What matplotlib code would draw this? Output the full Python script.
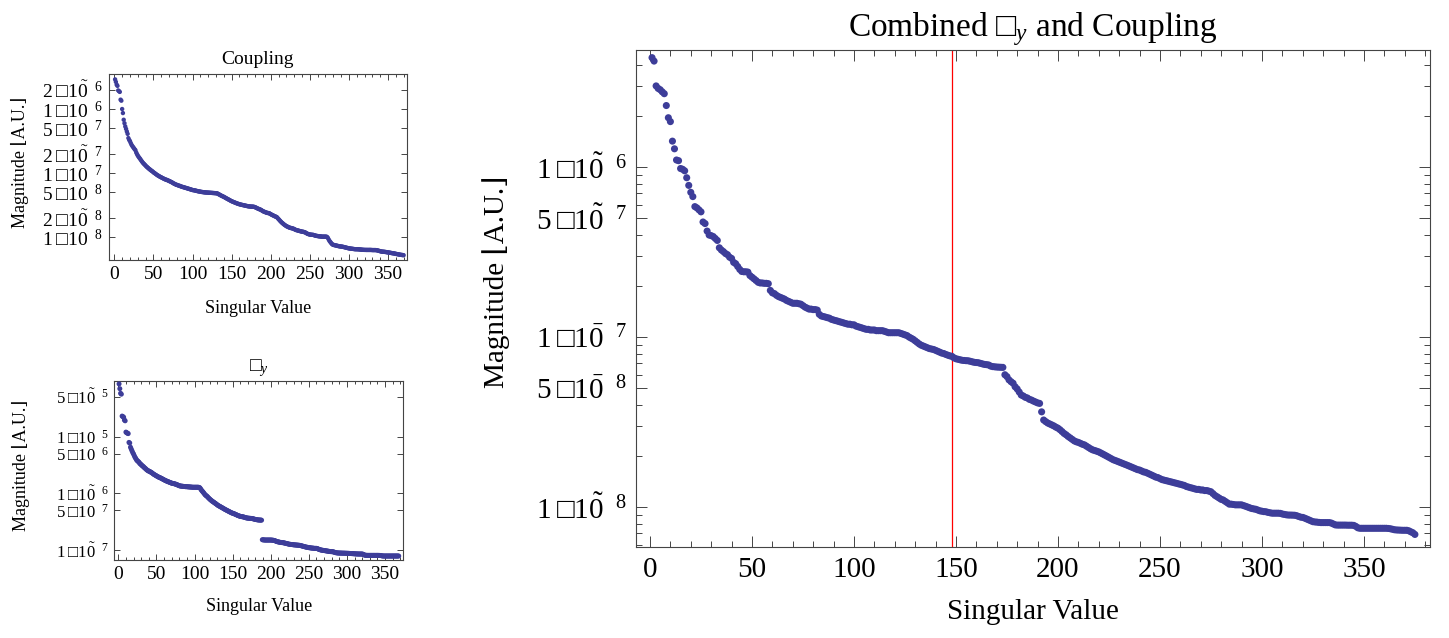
import numpy as np
import matplotlib.pyplot as plt
from matplotlib.ticker import FixedLocator, NullFormatter

# ---- data (index 1..N) ----
combined = [
    4.4e-6, 4.2e-6, 3.0e-6, 2.9e-6, 2.85e-6, 2.77e-6, 2.7e-6, 2.3e-6, 1.95e-6, 1.85e-6,
    1.42e-6, 1.28e-6, 1.10e-6, 1.09e-6, 9.8e-7, 9.7e-7, 9.5e-7, 8.65e-7, 7.8e-7, 7.1e-7,
    6.7e-7, 5.85e-7, 5.75e-7, 5.6e-7, 5.45e-7, 4.75e-7, 4.65e-7, 4.2e-7, 3.98e-7, 3.95e-7,
    3.9e-7, 3.8e-7, 3.7e-7, 3.35e-7, 3.25e-7, 3.18e-7, 3.1e-7, 3.05e-7, 2.95e-7, 2.9e-7,
    2.75e-7, 2.7e-7, 2.6e-7, 2.5e-7, 2.43e-7, 2.42e-7, 2.42e-7, 2.41e-7, 2.3e-7, 2.25e-7,
    2.2e-7, 2.15e-7, 2.1e-7, 2.08e-7, 2.08e-7, 2.07e-7, 2.07e-7, 2.06e-7, 1.88e-7, 1.82e-7,
    1.8e-7, 1.76e-7, 1.73e-7, 1.71e-7, 1.69e-7, 1.67e-7, 1.64e-7, 1.62e-7, 1.6e-7, 1.58e-7,
    1.58e-7, 1.58e-7, 1.57e-7, 1.56e-7, 1.53e-7, 1.5e-7, 1.48e-7, 1.46e-7, 1.46e-7, 1.45e-7,
    1.45e-7, 1.44e-7, 1.36e-7, 1.33e-7, 1.32e-7, 1.31e-7, 1.3e-7, 1.29e-7, 1.27e-7, 1.26e-7,
    1.25e-7, 1.24e-7, 1.23e-7, 1.22e-7, 1.21e-7, 1.2e-7, 1.19e-7, 1.19e-7, 1.18e-7, 1.18e-7,
    1.16e-7, 1.15e-7, 1.14e-7, 1.13e-7, 1.12e-7, 1.11e-7, 1.11e-7, 1.1e-7, 1.1e-7, 1.1e-7,
    1.09e-7, 1.09e-7, 1.09e-7, 1.09e-7, 1.08e-7, 1.07e-7, 1.06e-7, 1.06e-7, 1.06e-7, 1.06e-7,
    1.06e-7, 1.06e-7, 1.05e-7, 1.04e-7, 1.03e-7, 1.02e-7, 1.0e-7, 9.85e-8, 9.7e-8, 9.5e-8,
    9.3e-8, 9.1e-8, 8.95e-8, 8.85e-8, 8.75e-8, 8.65e-8, 8.55e-8, 8.5e-8, 8.45e-8, 8.35e-8,
    8.25e-8, 8.15e-8, 8.05e-8, 8.0e-8, 7.9e-8, 7.82e-8, 7.75e-8, 7.7e-8, 7.55e-8, 7.45e-8,
    7.4e-8, 7.35e-8, 7.3e-8, 7.28e-8, 7.26e-8, 7.25e-8, 7.2e-8, 7.15e-8, 7.1e-8, 7.08e-8,
    7.06e-8, 7.0e-8, 6.95e-8, 6.9e-8, 6.88e-8, 6.85e-8, 6.75e-8, 6.7e-8, 6.68e-8, 6.66e-8,
    6.65e-8, 6.64e-8, 6.63e-8, 6.0e-8, 5.85e-8, 5.6e-8, 5.46e-8, 5.35e-8, 5.1e-8, 4.95e-8,
    4.75e-8, 4.56e-8, 4.5e-8, 4.42e-8, 4.38e-8, 4.3e-8, 4.26e-8, 4.2e-8, 4.15e-8, 4.1e-8,
    4.07e-8, 3.63e-8, 3.25e-8, 3.18e-8, 3.12e-8, 3.08e-8, 3.04e-8, 3.0e-8, 2.95e-8, 2.91e-8,
    2.85e-8, 2.78e-8, 2.71e-8, 2.66e-8, 2.6e-8, 2.55e-8, 2.5e-8, 2.45e-8, 2.42e-8, 2.4e-8,
    2.37e-8, 2.34e-8, 2.32e-8, 2.28e-8, 2.24e-8, 2.2e-8, 2.17e-8, 2.15e-8, 2.13e-8, 2.11e-8,
    2.08e-8, 2.05e-8, 2.02e-8, 1.99e-8, 1.96e-8, 1.93e-8, 1.9e-8, 1.88e-8, 1.86e-8, 1.84e-8,
    1.82e-8, 1.8e-8, 1.78e-8, 1.76e-8, 1.74e-8, 1.72e-8, 1.7e-8, 1.68e-8, 1.66e-8, 1.65e-8,
    1.63e-8, 1.61e-8, 1.6e-8, 1.58e-8, 1.56e-8, 1.54e-8, 1.52e-8, 1.5e-8, 1.49e-8, 1.47e-8,
    1.45e-8, 1.44e-8, 1.43e-8, 1.42e-8, 1.41e-8, 1.4e-8, 1.39e-8, 1.38e-8, 1.37e-8, 1.36e-8,
    1.35e-8, 1.34e-8, 1.32e-8, 1.31e-8, 1.3e-8, 1.29e-8, 1.28e-8, 1.27e-8, 1.27e-8, 1.26e-8,
    1.26e-8, 1.25e-8, 1.25e-8, 1.24e-8, 1.23e-8, 1.2e-8, 1.17e-8, 1.15e-8, 1.13e-8, 1.11e-8,
    1.1e-8, 1.08e-8, 1.06e-8, 1.04e-8, 1.04e-8, 1.035e-8, 1.03e-8, 1.03e-8, 1.03e-8, 1.03e-8,
    1.02e-8, 1.01e-8, 1.0e-8, 9.9e-9, 9.8e-9, 9.75e-9, 9.7e-9, 9.6e-9, 9.5e-9, 9.45e-9,
    9.4e-9, 9.38e-9, 9.3e-9, 9.25e-9, 9.2e-9, 9.2e-9, 9.2e-9, 9.2e-9, 9.18e-9, 9.1e-9,
    9.05e-9, 9.0e-9, 8.97e-9, 8.97e-9, 8.96e-9, 8.95e-9, 8.9e-9, 8.8e-9, 8.72e-9, 8.69e-9,
    8.6e-9, 8.5e-9, 8.4e-9, 8.3e-9, 8.2e-9, 8.17e-9, 8.15e-9, 8.12e-9, 8.1e-9, 8.1e-9,
    8.1e-9, 8.1e-9, 8.1e-9, 8.05e-9, 7.95e-9, 7.85e-9, 7.83e-9, 7.83e-9, 7.83e-9, 7.83e-9,
    7.83e-9, 7.82e-9, 7.82e-9, 7.82e-9, 7.8e-9, 7.7e-9, 7.55e-9, 7.5e-9, 7.5e-9, 7.5e-9,
    7.5e-9, 7.5e-9, 7.5e-9, 7.5e-9, 7.5e-9, 7.5e-9, 7.5e-9, 7.5e-9, 7.5e-9, 7.5e-9,
    7.5e-9, 7.48e-9, 7.45e-9, 7.4e-9, 7.35e-9, 7.33e-9, 7.32e-9, 7.31e-9, 7.3e-9, 7.3e-9,
    7.3e-9, 7.25e-9, 7.15e-9, 7.06e-9, 6.9e-9,
]

coupling = [
    2.9e-6, 2.65e-6, 2.4e-6, 2.3e-6, 1.95e-6, 1.9e-6, 1.85e-6, 1.4e-6, 1.35e-6, 1.0e-6,
    8.65e-7, 6.8e-7, 6.0e-7, 5.35e-7, 4.9e-7, 4.47e-7, 4.1e-7, 3.52e-7, 3.3e-7, 3.15e-7,
    2.95e-7, 2.77e-7, 2.65e-7, 2.55e-7, 2.45e-7, 2.36e-7, 2.28e-7, 2.1e-7, 1.98e-7, 1.88e-7,
    1.8e-7, 1.73e-7, 1.67e-7, 1.6e-7, 1.54e-7, 1.48e-7, 1.43e-7, 1.39e-7, 1.35e-7, 1.31e-7,
    1.27e-7, 1.24e-7, 1.21e-7, 1.18e-7, 1.15e-7, 1.13e-7, 1.1e-7, 1.08e-7, 1.06e-7, 1.03e-7,
    1.01e-7, 9.9e-8, 9.7e-8, 9.5e-8, 9.3e-8, 9.15e-8, 9.0e-8, 8.85e-8, 8.7e-8, 8.6e-8,
    8.45e-8, 8.35e-8, 8.2e-8, 8.1e-8, 8.0e-8, 7.9e-8, 7.85e-8, 7.75e-8, 7.65e-8, 7.55e-8,
    7.45e-8, 7.35e-8, 7.25e-8, 7.15e-8, 7.0e-8, 6.9e-8, 6.8e-8, 6.7e-8, 6.6e-8, 6.55e-8,
    6.5e-8, 6.4e-8, 6.35e-8, 6.3e-8, 6.22e-8, 6.15e-8, 6.1e-8, 6.05e-8, 6.0e-8, 5.95e-8,
    5.9e-8, 5.85e-8, 5.8e-8, 5.75e-8, 5.7e-8, 5.65e-8, 5.6e-8, 5.55e-8, 5.5e-8, 5.45e-8,
    5.42e-8, 5.4e-8, 5.37e-8, 5.33e-8, 5.29e-8, 5.25e-8, 5.22e-8, 5.19e-8, 5.16e-8, 5.13e-8,
    5.1e-8, 5.08e-8, 5.06e-8, 5.04e-8, 5.02e-8, 5.0e-8, 4.99e-8, 4.98e-8, 4.97e-8, 4.96e-8,
    4.95e-8, 4.94e-8, 4.93e-8, 4.92e-8, 4.91e-8, 4.9e-8, 4.89e-8, 4.88e-8, 4.87e-8, 4.86e-8,
    4.85e-8, 4.8e-8, 4.72e-8, 4.65e-8, 4.58e-8, 4.5e-8, 4.44e-8, 4.38e-8, 4.32e-8, 4.27e-8,
    4.2e-8, 4.13e-8, 4.06e-8, 4.0e-8, 3.94e-8, 3.88e-8, 3.82e-8, 3.76e-8, 3.7e-8, 3.65e-8,
    3.6e-8, 3.56e-8, 3.52e-8, 3.48e-8, 3.44e-8, 3.4e-8, 3.36e-8, 3.33e-8, 3.3e-8, 3.27e-8,
    3.24e-8, 3.22e-8, 3.2e-8, 3.18e-8, 3.16e-8, 3.14e-8, 3.12e-8, 3.1e-8, 3.08e-8, 3.06e-8,
    3.04e-8, 3.03e-8, 3.02e-8, 3.01e-8, 3.0e-8, 3.0e-8, 3.0e-8, 2.99e-8, 2.97e-8, 2.94e-8,
    2.9e-8, 2.86e-8, 2.82e-8, 2.78e-8, 2.75e-8, 2.72e-8, 2.69e-8, 2.65e-8, 2.6e-8, 2.55e-8,
    2.52e-8, 2.49e-8, 2.46e-8, 2.43e-8, 2.41e-8, 2.39e-8, 2.38e-8, 2.37e-8, 2.33e-8, 2.29e-8,
    2.25e-8, 2.22e-8, 2.19e-8, 2.16e-8, 2.13e-8, 2.1e-8, 2.08e-8, 2.05e-8, 1.98e-8, 1.92e-8,
    1.86e-8, 1.8e-8, 1.75e-8, 1.7e-8, 1.66e-8, 1.62e-8, 1.58e-8, 1.55e-8, 1.52e-8, 1.49e-8,
    1.47e-8, 1.45e-8, 1.43e-8, 1.41e-8, 1.4e-8, 1.39e-8, 1.38e-8, 1.37e-8, 1.36e-8, 1.34e-8,
    1.32e-8, 1.3e-8, 1.29e-8, 1.28e-8, 1.27e-8, 1.26e-8, 1.25e-8, 1.24e-8, 1.23e-8, 1.22e-8,
    1.22e-8, 1.21e-8, 1.2e-8, 1.19e-8, 1.17e-8, 1.15e-8, 1.13e-8, 1.12e-8, 1.11e-8, 1.1e-8,
    1.1e-8, 1.09e-8, 1.09e-8, 1.09e-8, 1.08e-8, 1.07e-8, 1.06e-8, 1.05e-8, 1.05e-8, 1.04e-8,
    1.04e-8, 1.03e-8, 1.03e-8, 1.03e-8, 1.02e-8, 1.02e-8, 1.02e-8, 1.02e-8, 1.02e-8, 1.02e-8,
    1.02e-8, 1.01e-8, 9.8e-9, 9.3e-9, 8.8e-9, 8.5e-9, 8.2e-9, 7.9e-9, 7.7e-9, 7.6e-9,
    7.55e-9, 7.5e-9, 7.45e-9, 7.4e-9, 7.35e-9, 7.3e-9, 7.25e-9, 7.2e-9, 7.18e-9, 7.15e-9,
    7.13e-9, 7.1e-9, 7.05e-9, 7.0e-9, 6.95e-9, 6.9e-9, 6.85e-9, 6.8e-9, 6.75e-9, 6.7e-9,
    6.68e-9, 6.65e-9, 6.62e-9, 6.6e-9, 6.58e-9, 6.55e-9, 6.52e-9, 6.5e-9, 6.5e-9, 6.49e-9,
    6.49e-9, 6.48e-9, 6.46e-9, 6.44e-9, 6.42e-9, 6.4e-9, 6.38e-9, 6.36e-9, 6.35e-9, 6.34e-9,
    6.34e-9, 6.33e-9, 6.33e-9, 6.33e-9, 6.33e-9, 6.33e-9, 6.33e-9, 6.33e-9, 6.32e-9, 6.3e-9,
    6.3e-9, 6.3e-9, 6.3e-9, 6.3e-9, 6.28e-9, 6.25e-9, 6.2e-9, 6.15e-9, 6.1e-9, 6.05e-9,
    6.0e-9, 5.96e-9, 5.95e-9, 5.94e-9, 5.92e-9, 5.9e-9, 5.88e-9, 5.85e-9, 5.82e-9, 5.8e-9,
    5.77e-9, 5.74e-9, 5.71e-9, 5.68e-9, 5.65e-9, 5.62e-9, 5.6e-9, 5.57e-9, 5.54e-9, 5.5e-9,
    5.47e-9, 5.44e-9, 5.41e-9, 5.38e-9, 5.35e-9, 5.32e-9, 5.3e-9, 5.28e-9, 5.26e-9, 5.24e-9,
]

sigma_y = [
    8.5e-5, 7.0e-5, 5.8e-5, 5.6e-5, 2.3e-5, 2.25e-5, 2.2e-5, 1.96e-5, 1.9e-5, 1.2e-5,
    1.17e-5, 1.15e-5, 1.13e-5, 7.9e-6, 7.7e-6, 6.5e-6, 6.04e-6, 5.6e-6, 5.2e-6, 4.93e-6,
    4.6e-6, 4.3e-6, 4.1e-6, 3.87e-6, 3.75e-6, 3.65e-6, 3.55e-6, 3.38e-6, 3.3e-6, 3.2e-6,
    3.1e-6, 3.02e-6, 2.95e-6, 2.85e-6, 2.78e-6, 2.7e-6, 2.62e-6, 2.56e-6, 2.5e-6, 2.47e-6,
    2.43e-6, 2.39e-6, 2.35e-6, 2.3e-6, 2.25e-6, 2.19e-6, 2.15e-6, 2.11e-6, 2.07e-6, 2.03e-6,
    2.0e-6, 1.96e-6, 1.93e-6, 1.9e-6, 1.88e-6, 1.85e-6, 1.82e-6, 1.79e-6, 1.76e-6, 1.73e-6,
    1.7e-6, 1.68e-6, 1.65e-6, 1.63e-6, 1.61e-6, 1.59e-6, 1.57e-6, 1.55e-6, 1.53e-6, 1.51e-6,
    1.5e-6, 1.49e-6, 1.48e-6, 1.47e-6, 1.45e-6, 1.44e-6, 1.42e-6, 1.4e-6, 1.38e-6, 1.36e-6,
    1.35e-6, 1.34e-6, 1.34e-6, 1.33e-6, 1.33e-6, 1.32e-6, 1.32e-6, 1.31e-6, 1.31e-6, 1.31e-6,
    1.3e-6, 1.3e-6, 1.3e-6, 1.29e-6, 1.29e-6, 1.29e-6, 1.28e-6, 1.28e-6, 1.28e-6, 1.28e-6,
    1.28e-6, 1.28e-6, 1.28e-6, 1.28e-6, 1.28e-6, 1.27e-6, 1.25e-6, 1.2e-6, 1.14e-6, 1.1e-6,
    1.06e-6, 1.02e-6, 9.8e-7, 9.4e-7, 9.15e-7, 8.96e-7, 8.7e-7, 8.4e-7, 8.15e-7, 7.9e-7,
    7.7e-7, 7.5e-7, 7.3e-7, 7.15e-7, 7.0e-7, 6.85e-7, 6.7e-7, 6.55e-7, 6.4e-7, 6.25e-7,
    6.1e-7, 6.0e-7, 5.9e-7, 5.8e-7, 5.7e-7, 5.6e-7, 5.5e-7, 5.4e-7, 5.3e-7, 5.2e-7,
    5.12e-7, 5.04e-7, 4.96e-7, 4.88e-7, 4.8e-7, 4.72e-7, 4.65e-7, 4.58e-7, 4.5e-7, 4.45e-7,
    4.42e-7, 4.36e-7, 4.3e-7, 4.24e-7, 4.18e-7, 4.12e-7, 4.06e-7, 4.01e-7, 3.97e-7, 3.93e-7,
    3.9e-7, 3.88e-7, 3.86e-7, 3.84e-7, 3.8e-7, 3.76e-7, 3.72e-7, 3.69e-7, 3.67e-7, 3.65e-7,
    3.64e-7, 3.63e-7, 3.62e-7, 3.61e-7, 3.6e-7, 3.58e-7, 3.55e-7, 3.52e-7, 3.49e-7, 3.46e-7,
    3.44e-7, 3.42e-7, 3.4e-7, 3.39e-7, 3.38e-7, 3.38e-7, 3.37e-7, 3.36e-7,
    1.52e-7, 1.51e-7, 1.51e-7, 1.5e-7, 1.5e-7, 1.5e-7, 1.5e-7, 1.5e-7, 1.5e-7, 1.5e-7, 1.5e-7, 1.5e-7,
    1.5e-7, 1.49e-7, 1.49e-7, 1.48e-7, 1.47e-7, 1.45e-7, 1.43e-7, 1.41e-7, 1.4e-7, 1.39e-7,
    1.38e-7, 1.37e-7, 1.36e-7, 1.36e-7, 1.35e-7, 1.35e-7, 1.34e-7, 1.33e-7, 1.32e-7, 1.31e-7,
    1.3e-7, 1.29e-7, 1.28e-7, 1.27e-7, 1.26e-7, 1.26e-7, 1.25e-7, 1.25e-7, 1.24e-7, 1.24e-7,
    1.23e-7, 1.23e-7, 1.23e-7, 1.22e-7, 1.22e-7, 1.22e-7, 1.21e-7, 1.21e-7, 1.2e-7, 1.19e-7,
    1.18e-7, 1.17e-7, 1.16e-7, 1.15e-7, 1.14e-7, 1.13e-7, 1.12e-7, 1.12e-7, 1.11e-7, 1.1e-7,
    1.1e-7, 1.09e-7, 1.09e-7, 1.08e-7, 1.08e-7, 1.08e-7, 1.07e-7, 1.07e-7, 1.07e-7, 1.07e-7,
    1.06e-7, 1.05e-7, 1.03e-7, 1.02e-7, 1.01e-7, 1.0e-7, 9.95e-8, 9.9e-8, 9.85e-8, 9.8e-8,
    9.75e-8, 9.7e-8, 9.65e-8, 9.6e-8, 9.55e-8, 9.5e-8, 9.45e-8, 9.4e-8, 9.38e-8, 9.36e-8,
    9.35e-8, 9.3e-8, 9.2e-8, 9.1e-8, 9.0e-8, 8.95e-8, 8.9e-8, 8.88e-8, 8.86e-8, 8.85e-8,
    8.84e-8, 8.83e-8, 8.82e-8, 8.81e-8, 8.8e-8, 8.8e-8, 8.79e-8, 8.78e-8, 8.77e-8, 8.76e-8,
    8.75e-8, 8.74e-8, 8.72e-8, 8.7e-8, 8.68e-8, 8.66e-8, 8.64e-8, 8.62e-8, 8.6e-8, 8.58e-8,
    8.56e-8, 8.54e-8, 8.53e-8, 8.52e-8, 8.51e-8, 8.5e-8, 8.5e-8, 8.5e-8, 8.5e-8, 8.5e-8,
    8.45e-8, 8.3e-8, 8.15e-8, 8.1e-8, 8.08e-8, 8.06e-8, 8.05e-8, 8.05e-8, 8.05e-8, 8.05e-8,
    8.05e-8, 8.05e-8, 8.05e-8, 8.05e-8, 8.05e-8, 8.05e-8, 8.05e-8, 8.05e-8, 8.05e-8, 8.05e-8,
    8.05e-8, 8.04e-8, 8.03e-8, 8.0e-8, 7.95e-8, 7.9e-8, 7.85e-8, 7.85e-8, 7.84e-8, 7.84e-8,
    7.84e-8, 7.84e-8, 7.84e-8, 7.84e-8, 7.84e-8, 7.84e-8, 7.84e-8, 7.84e-8, 7.84e-8, 7.84e-8,
    7.84e-8, 7.84e-8, 7.84e-8, 7.84e-8, 7.84e-8, 7.84e-8, 7.84e-8, 7.84e-8,
]

cut_index = 148

# ticks
x_major = [0, 50, 100, 150, 200, 250, 300, 350]
x_minor = [v for v in range(0, 390, 10) if v % 50]

main_yticks = [1e-6, 5e-7, 1e-7, 5e-8, 1e-8]
main_ylabels = [r"$1\;□1\tilde{0}\;\;{}^{6}$", r"$5\;□1\tilde{0}\;\;{}^{7}$",
                r"$1\;□1\bar{0}\;\;{}^{7}$", r"$5\;□1\bar{0}\;\;{}^{8}$",
                r"$1\;□1\tilde{0}\;\;{}^{8}$"]
main_yminor = [4e-6, 3e-6, 2e-6, 9e-7, 8e-7, 7e-7, 6e-7, 4e-7, 3e-7, 2e-7,
               9e-8, 8e-8, 7e-8, 6e-8, 4e-8, 3e-8, 2e-8, 9e-9, 8e-9, 7e-9, 6e-9]

coup_yticks = [2e-6, 1e-6, 5e-7, 2e-7, 1e-7, 5e-8, 2e-8, 1e-8]
coup_ylabels = [r"$2\;□1\tilde{0}\;\;{}^{6}$", r"$1\;□10\;\;{}^{6}$",
                r"$5\;□10\;\;{}^{7}$", r"$2\;□1\tilde{0}\;\;{}^{7}$",
                r"$1\;□10\;\;{}^{7}$", r"$5\;□10\;\;{}^{8}$",
                r"$2\;□1\tilde{0}\;\;{}^{8}$", r"$1\;□10\;\;{}^{8}$"]

sig_yticks = [5e-5, 1e-5, 5e-6, 1e-6, 5e-7, 1e-7]
sig_ylabels = [r"$5\;□1\tilde{0}\;\;{}^{5}$", r"$1\;□10\;\;{}^{5}$",
               r"$5\;□10\;\;{}^{6}$", r"$1\;□1\tilde{0}\;\;{}^{6}$",
               r"$5\;□10\;\;{}^{7}$", r"$1\;□1\tilde{0}\;\;{}^{7}$"]

plt.rcParams['font.family'] = ['Liberation Serif', 'DejaVu Serif']
plt.rcParams['mathtext.fontset'] = 'custom'
plt.rcParams['mathtext.rm'] = 'Liberation Serif'
plt.rcParams['mathtext.it'] = 'Liberation Serif:italic'
plt.rcParams['mathtext.fallback'] = 'stix'

dot_color = '#3d3d99'
frame_color = '#444444'
W, H = 1449, 638

fig = plt.figure(figsize=(14.49, 6.38), dpi=100)
ax_c = fig.add_axes([109 / W, 1 - 260 / H, 298 / W, 186 / H])
ax_s = fig.add_axes([114.3 / W, 1 - 560 / H, 289 / W, 179.3 / H])
ax_m = fig.add_axes([636 / W, 1 - 547 / H, 794 / W, 497 / H])


def frame(ax, fs, major_len, minor_len, pad):
    for sp in ax.spines.values():
        sp.set_color(frame_color)
        sp.set_linewidth(0.8)
    ax.set_yscale('log')
    ax.xaxis.set_major_locator(FixedLocator(x_major))
    ax.xaxis.set_minor_locator(FixedLocator(x_minor))
    ax.tick_params(which='both', direction='in', top=True, right=True,
                   color=frame_color, width=0.7, labelsize=fs, pad=pad)
    ax.tick_params(which='major', length=major_len)
    ax.tick_params(which='minor', length=minor_len)


# coupling
xc = np.arange(1, len(coupling) + 1)
ax_c.scatter(xc, coupling, s=10, color=dot_color, edgecolors='none', zorder=3)
frame(ax_c, 14, 4, 2, 4)
ax_c.set_xlim(-6.8, 374.3)
ax_c.set_ylim(4.41e-9, 3.52e-6)
ax_c.yaxis.set_major_locator(FixedLocator(coup_yticks))
ax_c.yaxis.set_minor_locator(FixedLocator([]))
ax_c.set_yticklabels(coup_ylabels)
ax_c.set_title('Coupling', fontsize=14, pad=7)
ax_c.set_xlabel('Singular Value', fontsize=13)
ax_c.set_ylabel('Magnitude ⌊A.U.⌋', fontsize=13)
ax_c.xaxis.set_label_coords(0.5, -0.215)
ax_c.yaxis.set_label_coords(-0.27, 0.527)

# sigma_y
xs = np.arange(1, len(sigma_y) + 1)
ax_s.scatter(xs, sigma_y, s=13, color=dot_color, edgecolors='none', zorder=3)
frame(ax_s, 14, 4, 2, 4)
ax_s.tick_params(axis='y', labelsize=12)
ax_s.set_xlim(-5.25, 374)
ax_s.set_ylim(6.67e-8, 9.68e-5)
ax_s.yaxis.set_major_locator(FixedLocator(sig_yticks))
ax_s.yaxis.set_minor_locator(FixedLocator([]))
ax_s.set_yticklabels(sig_ylabels)
ax_s.set_title('□$_y$', fontsize=14, pad=7)
ax_s.set_xlabel('Singular Value', fontsize=13)
ax_s.set_ylabel('Magnitude ⌊A.U.⌋', fontsize=13)
ax_s.xaxis.set_label_coords(0.5, -0.212)
ax_s.yaxis.set_label_coords(-0.292, 0.53)

# combined
xm = np.arange(1, len(combined) + 1)
ax_m.scatter(xm, combined, s=26, color=dot_color, edgecolors='none', zorder=3)
ax_m.axvline(cut_index, color='#ff0000', linewidth=0.9, zorder=2)
frame(ax_m, 21, 8, 4.5, 7)
ax_m.set_xlim(-6.86, 382.4)
ax_m.set_ylim(5.82e-9, 4.88e-6)
ax_m.yaxis.set_major_locator(FixedLocator(main_yticks))
ax_m.yaxis.set_minor_locator(FixedLocator(main_yminor))
ax_m.yaxis.set_minor_formatter(NullFormatter())
ax_m.set_yticklabels(main_ylabels)
ax_m.set_title('Combined □$_y$ and Coupling', fontsize=24, pad=10)
ax_m.set_xlabel('Singular Value', fontsize=21)
ax_m.set_ylabel('Magnitude ⌊A.U.⌋', fontsize=21)
ax_m.xaxis.set_label_coords(0.5, -0.105)
ax_m.yaxis.set_label_coords(-0.159, 0.533)

fig.savefig('out.png', dpi=100)
